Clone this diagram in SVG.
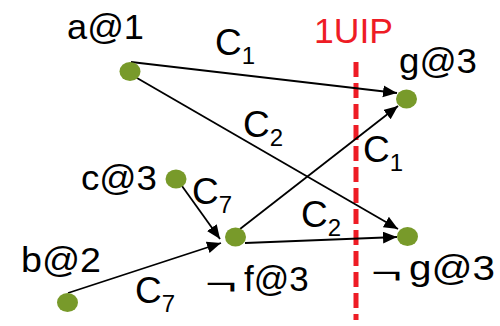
<svg xmlns="http://www.w3.org/2000/svg" width="500" height="326" viewBox="0 0 500 326">
<style>
.node{fill:#789a2a;}
.lbl{font-family:"Liberation Sans",Arial,sans-serif;font-size:35px;fill:#000;}
.neg{font-size:32px;}
.cl{font-family:"Liberation Sans",Arial,sans-serif;font-size:37px;fill:#000;}
.sub{font-size:24px;}
.edge{stroke:#000;stroke-width:1.8;fill:none;marker-end:url(#arr);}
.uip{stroke:#ee1c25;stroke-width:5;stroke-dasharray:15 6;fill:none;}
.red{font-family:"Liberation Sans",Arial,sans-serif;font-size:35px;fill:#ee1c25;}
</style>
<defs>
<marker id="arr" markerUnits="userSpaceOnUse" markerWidth="15" markerHeight="13" refX="14" refY="6" orient="auto">
<path d="M0,0 L14,6 L0,12 z" fill="#000"/>
</marker>
</defs>
<rect width="500" height="326" fill="#fff"/>
<g id="cut">
<line class="uip" x1="356" y1="62" x2="356" y2="320"/>
<text class="red" x="314" y="43" textLength="79" lengthAdjust="spacingAndGlyphs">1UIP</text>
</g>
<g id="connectors">
<line class="edge" x1="131" y1="62" x2="397" y2="93"/>
<line class="edge" x1="137" y1="78" x2="398" y2="229"/>
<line class="edge" x1="240" y1="229" x2="398" y2="106"/>
<line class="edge" x1="182" y1="186" x2="220" y2="239"/>
<line class="edge" x1="68" y1="293" x2="221" y2="243"/>
<line class="edge" x1="245" y1="243" x2="397" y2="237"/>
<text class="cl" x="215" y="55">C<tspan class="sub" dy="9">1</tspan></text>
<text class="cl" x="243" y="137">C<tspan class="sub" dy="9">2</tspan></text>
<text class="cl" x="363" y="162">C<tspan class="sub" dy="9">1</tspan></text>
<text class="cl" x="192" y="204">C<tspan class="sub" dy="9">7</tspan></text>
<text class="cl" x="301" y="227">C<tspan class="sub" dy="9">2</tspan></text>
<text class="cl" x="135" y="303">C<tspan class="sub" dy="9">7</tspan></text>
</g>
<g id="a">
<ellipse class="node" cx="130" cy="71.5" rx="10.5" ry="9.5"/>
<text class="lbl" x="67" y="39" textLength="77" lengthAdjust="spacingAndGlyphs">a@1</text>
</g>
<g id="g1">
<ellipse class="node" cx="406.5" cy="99" rx="10.5" ry="9.5"/>
<text class="lbl" x="399" y="73" textLength="78" lengthAdjust="spacingAndGlyphs">g@3</text>
</g>
<g id="c">
<ellipse class="node" cx="176" cy="179" rx="10.5" ry="9.5"/>
<text class="lbl" x="81" y="190" textLength="76" lengthAdjust="spacingAndGlyphs">c@3</text>
</g>
<g id="f">
<ellipse class="node" cx="235.5" cy="237" rx="10.5" ry="9.5"/>
<text class="lbl" x="205" y="294"><tspan class="neg" textLength="32" lengthAdjust="spacingAndGlyphs">¬</tspan><tspan x="244" y="291">f@3</tspan></text>
</g>
<g id="b">
<ellipse class="node" cx="67.5" cy="302.5" rx="10.5" ry="9.5"/>
<text class="lbl" x="21" y="272" textLength="80" lengthAdjust="spacingAndGlyphs">b@2</text>
</g>
<g id="g2">
<ellipse class="node" cx="407.5" cy="236.5" rx="10.5" ry="9.5"/>
<text class="lbl" x="371" y="283"><tspan class="neg" textLength="31" lengthAdjust="spacingAndGlyphs">¬</tspan><tspan x="409" y="280" textLength="86" lengthAdjust="spacingAndGlyphs">g@3</tspan></text>
</g>
</svg>
